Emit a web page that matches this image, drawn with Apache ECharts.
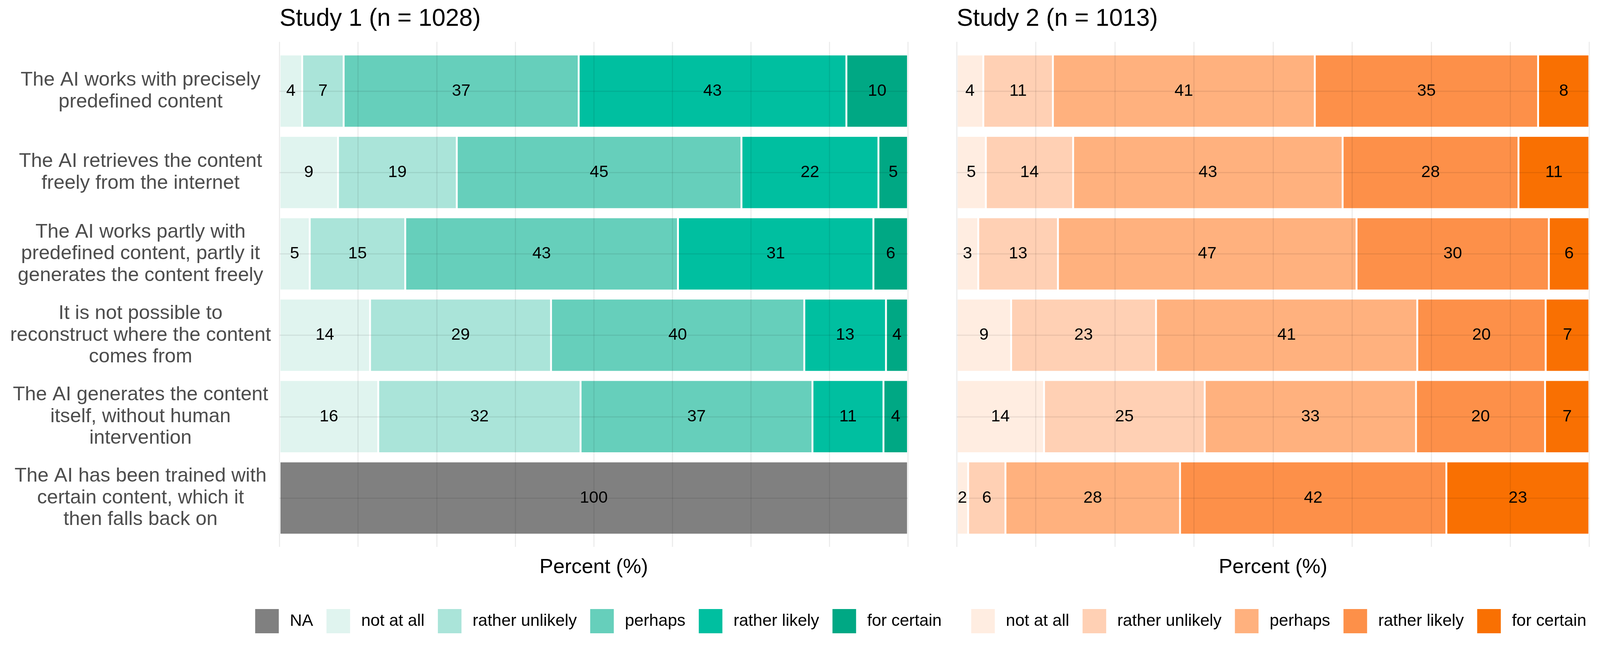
<!DOCTYPE html>
<html>
<head>
<meta charset="utf-8">
<style>
  html, body { margin: 0; padding: 0; background: #ffffff; overflow: hidden; }
  #chart { width: 100vw; height: 100vh; }
</style>
<script src="https://cdn.jsdelivr.net/npm/echarts@6/dist/echarts.min.js"></script>
</head>
<body>
<div id="chart"></div>
<script>
// ---------- data ----------
const categories = [
  "The AI works with precisely\npredefined content",
  "The AI retrieves the content\nfreely from the internet",
  "The AI works partly with\npredefined content, partly it\ngenerates the content freely",
  "It is not possible to\nreconstruct where the content\ncomes from",
  "The AI generates the content\nitself, without human\nintervention",
  "The AI has been trained with\ncertain content, which it\nthen falls back on"
];
const levels = ["not at all", "rather unlikely", "perhaps", "rather likely", "for certain"];
const titles = ["Study 1 (n = 1028)", "Study 2 (n = 1013)"];
const axisTitle = "Percent (%)";

// Study 1 (percent per answer, '-' = no data)
const s1NA             = ['-', '-', '-', '-', '-', 100];
const s1NotAtAll       = [3.6, 9.3, 4.8, 14.4, 15.7, '-'];
const s1RatherUnlikely = [6.6, 18.9, 15.2, 28.8, 32.2, '-'];
const s1Perhaps        = [37.4, 45.3, 43.4, 40.3, 36.9, '-'];
const s1RatherLikely   = [42.6, 21.8, 31.1, 13.0, 11.3, '-'];
const s1ForCertain     = [9.8, 4.7, 5.5, 3.5, 3.9, '-'];

// Study 2
const s2NotAtAll       = [4.2, 4.6, 3.4, 8.6, 13.8, 1.8];
const s2RatherUnlikely = [11.0, 13.8, 12.6, 22.9, 25.4, 5.9];
const s2Perhaps        = [41.4, 42.6, 47.2, 41.3, 33.4, 27.6];
const s2RatherLikely   = [35.3, 27.8, 30.4, 20.3, 20.4, 42.1];
const s2ForCertain     = [8.1, 11.2, 6.4, 6.9, 7.0, 22.6];

const naColor = '#808080';
const greens  = ['#E0F4EF', '#AAE4D9', '#66CFBB', '#00BFA0', '#00A884'];
const oranges = ['#FFEDE1', '#FFD0B4', '#FFB17E', '#FD9049', '#F97002'];

// ---------- layout scaling (designed for 4201 x 1650) ----------
const el = document.getElementById('chart');
const W = el.clientWidth || window.innerWidth;
const H = el.clientHeight || window.innerHeight;
const sx = W / 4201, sy = H / 1650;
const X = v => v * sx, Y = v => v * sy, F = v => v * Math.min(sx, sy);

const FONT = "'Liberation Sans', Arial, Helvetica, sans-serif";
const gridLine = 'rgba(0,0,0,0.075)';

function barSeries(name, data, color, axisIdx, stack) {
  return {
    type: 'bar', name: name, data: data, stack: stack,
    xAxisIndex: axisIdx, yAxisIndex: axisIdx,
    barCategoryGap: '10%',
    itemStyle: { color: color, borderColor: '#ffffff', borderWidth: F(2.5) },
    label: {
      show: true, position: 'inside', fontSize: F(44), color: '#000000', fontFamily: FONT,
      formatter: function (p) { return Math.round(p.value); }
    },
    emphasis: { disabled: true },
    z: 2
  };
}

const s1Data = [s1NotAtAll, s1RatherUnlikely, s1Perhaps, s1RatherLikely, s1ForCertain];
const s2Data = [s2NotAtAll, s2RatherUnlikely, s2Perhaps, s2RatherLikely, s2ForCertain];

const series = [barSeries('S1|NA', s1NA, naColor, 1, 's1')];
levels.forEach(function (lv, i) { series.push(barSeries('S1|' + lv, s1Data[i], greens[i], 1, 's1')); });
levels.forEach(function (lv, i) { series.push(barSeries('S2|' + lv, s2Data[i], oranges[i], 3, 's2')); });

const panels = [
  { left: 734, width: 1650 },
  { left: 2512, width: 1661 }
];

const grids = [], xAxes = [], yAxes = [];
panels.forEach(function (p) {
  grids.push({ left: X(p.left), width: X(p.width), top: Y(107), height: Y(1292), containLabel: false });
  grids.push({ left: X(p.left), width: X(p.width), top: Y(129), height: Y(1249), containLabel: false });
});

// x axes: 0 bg-left, 1 bars-left, 2 bg-right, 3 bars-right
[0, 1, 2, 3].forEach(function (gi) {
  const isBg = gi % 2 === 0;
  xAxes.push({
    gridIndex: gi, type: 'value', min: 0, max: 100,
    interval: isBg ? 12.5 : undefined,
    axisLine: { show: false }, axisTick: { show: false }, axisLabel: { show: false },
    splitLine: isBg ? { show: true, lineStyle: { color: gridLine, width: F(3) } } : { show: false },
    name: isBg ? '' : axisTitle,
    nameLocation: 'middle', nameGap: Y(47),
    nameTextStyle: { fontSize: F(54), color: '#000000', fontFamily: FONT },
    z: isBg ? 3 : 0
  });
});

yAxes.push({ gridIndex: 0, type: 'value', min: 0, max: 1, show: false });
yAxes.push({
  gridIndex: 1, type: 'category', data: categories, inverse: true,
  axisLine: { show: false }, axisTick: { show: false }, splitLine: { show: false },
  axisLabel: {
    show: true, align: 'center', margin: X(365), fontSize: F(52), lineHeight: F(57),
    color: '#4D4D4D', fontFamily: FONT, padding: [Y(12), 0, 0, 0], interval: 0
  }
});
yAxes.push({ gridIndex: 2, type: 'value', min: 0, max: 1, show: false });
yAxes.push({
  gridIndex: 3, type: 'category', data: categories, inverse: true,
  axisLine: { show: false }, axisTick: { show: false }, splitLine: { show: false },
  axisLabel: { show: false }
});
[1, 3].forEach(function (gi) {
  yAxes.push({
    gridIndex: gi, type: 'value', min: 0, max: 12, interval: 1, position: 'right',
    axisLine: { show: false }, axisTick: { show: false }, axisLabel: { show: false },
    splitLine: { show: true, showMinLine: true, showMaxLine: true,
      lineStyle: { color: ['rgba(0,0,0,0)', gridLine], width: F(3) } },
    z: 3
  });
});

function legendFor(prefix, names, left) {
  return {
    left: X(left), top: Y(1558), orient: 'horizontal', padding: 0,
    itemWidth: X(62), itemHeight: Y(62), itemGap: X(35), icon: 'rect',
    selectedMode: false,
    itemStyle: { borderWidth: 0 },
    data: names.map(function (n) { return prefix + n; }),
    formatter: function (name) { return name.split('|')[1]; },
    textStyle: { fontSize: F(44), color: '#000000', fontFamily: FONT, padding: [0, 0, 0, X(24)] }
  };
}

const option = {
  backgroundColor: '#ffffff',
  animation: false,
  textStyle: { fontFamily: FONT },
  title: [
    { text: titles[0], left: X(734), top: Y(18), padding: 0,
      textStyle: { fontSize: F(64), fontWeight: 'normal', color: '#000000', fontFamily: FONT } },
    { text: titles[1], left: X(2512), top: Y(18), padding: 0,
      textStyle: { fontSize: F(64), fontWeight: 'normal', color: '#000000', fontFamily: FONT } }
  ],
  legend: [
    legendFor('S1|', ['NA'].concat(levels), 670),
    legendFor('S2|', levels, 2550)
  ],
  grid: grids,
  xAxis: xAxes,
  yAxis: yAxes,
  series: series
};

const chart = echarts.init(el, null, { renderer: 'canvas' });
chart.setOption(option);
window.addEventListener('resize', function () { chart.resize(); });
</script>
</body>
</html>
